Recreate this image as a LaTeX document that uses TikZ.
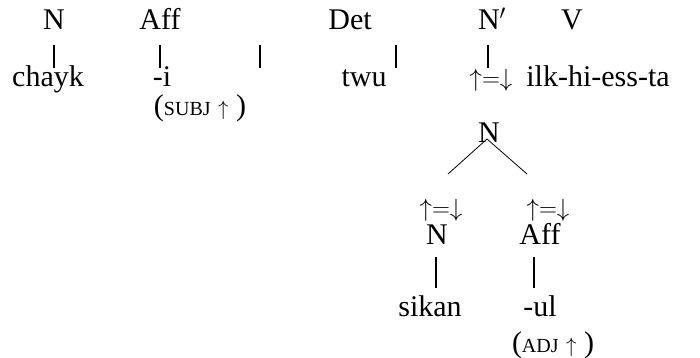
\documentclass[tikz,border=0pt]{standalone}
\usepackage{fontspec}
\setmainfont{Liberation Serif}
\begin{document}
\begin{tikzpicture}[x=1pt, y=-1pt,
	lbl/.style={inner sep=0pt, anchor=base, font=\fontsize{30}{30}\selectfont},
	eqn/.style={inner sep=0pt, anchor=base, font=\fontsize{23}{23}\selectfont},
	bar/.style={line width=1.1pt},
	branch/.style={line width=.8pt}]
	\useasboundingbox (0,0) rectangle (700,357);
	
	% categories
	\node[lbl] (catN) at (54,29) {N};
	\node[lbl] (catAff) at (160,29) {Aff};
	\node[lbl] (catDet) at (350,29) {Det};
	\node[lbl] (catNbar) at (492,29) {N$'$};
	\node[lbl] (catV) at (572,29) {V};
	
	% words
	\node[lbl] (chayk) at (48,86) {chayk};
	\node[lbl] (suffI) at (162,86) {-i};
	\node[lbl] (twu) at (364,86) {twu};
	\node[eqn] (headA) at (491,86) {$\uparrow=\downarrow$};
	\node[lbl] (verb) at (598,86) {ilk-hi-ess-ta};
	\node[lbl] (subj) at (200,115) {({\fontsize{20}{20}\selectfont SUBJ} {\fontsize{22}{22}\selectfont$\uparrow$} )};
	
	% bars
	\coordinate (barTop) at (260,45);
	\coordinate (barBot) at (260,68);
	\draw[bar] (catN.south |- barTop) -- (catN.south |- barBot);
	\draw[bar] (catAff.south |- barTop) -- (catAff.south |- barBot);
	\draw[bar] (barTop) -- (barBot);
	\draw[bar] (396,45) -- (396,68);
	\draw[bar] (488,45) -- (488,68);
	
	% subtree
	\node[lbl] (nTop) at (489,142) {N};
	\coordinate (leftEnd) at (448,174);
	\coordinate (rightEnd) at (527,174);
	\draw[branch] (487,139) -- (leftEnd);
	\draw[branch] (487,139) -- (rightEnd);
	
	\node[eqn] (headL) at (441,216) {$\uparrow=\downarrow$};
	\node[eqn] (headR) at (548,216) {$\uparrow=\downarrow$};
	\node[lbl] (nLeft) at (437,244) {N};
	\node[lbl] (affRight) at (540,244) {Aff};
	\draw[bar] (436,257) -- (436,288);
	\draw[bar] (534,257) -- (534,288);
	\node[lbl] (sikan) at (430,316) {sikan};
	\node[lbl] (suffUl) at (540,316) {-ul};
	\node[lbl] (adj) at (553,352) {({\fontsize{20}{20}\selectfont ADJ} {\fontsize{22}{22}\selectfont$\uparrow$} )};
\end{tikzpicture}
\end{document}
